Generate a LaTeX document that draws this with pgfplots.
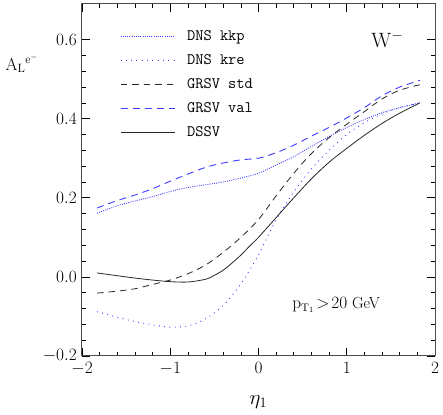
\documentclass[border=0pt]{standalone}
\usepackage{pgfplots}
\pgfplotsset{compat=1.18}
\definecolor{myblue}{RGB}{60,60,255}
\definecolor{mydark}{RGB}{40,40,40}
\begin{document}
\begin{tikzpicture}
\begin{axis}[
  name=ax,
  scale only axis, width=353pt, height=352pt,
  xmin=-2, xmax=2, ymin=-0.2, ymax=0.69,
  xtick={-2,-1,0,1,2}, ytick={-0.2,0,0.2,0.4,0.6},
  minor x tick num=4, minor y tick num=4,
  tick align=inside, major tick length=8pt, minor tick length=4pt,
  axis line style={gray!60!black, line width=1pt},
  tick style={black, line width=0.7pt},
  ticklabel style={font=\fontsize{16}{19}\selectfont, inner sep=1pt},
  xticklabel style={yshift=-5pt},
  yticklabel style={xshift=-4pt, /pgf/number format/.cd, fixed, fixed zerofill, precision=1},
  clip=false,
  legend cell align=left,
  legend image code/.code={\draw[#1] (0pt,0pt) -- (54pt,0pt);},
  legend style={draw=none, fill=none, at={(0.099,0.935)}, anchor=north west,
    font=\fontsize{16}{19}\selectfont\ttfamily,
    nodes={inner sep=0pt, text height=11pt, text depth=3.5pt},
    row sep=9.5pt, column sep=12pt},
]
\addplot[myblue, line width=0.9pt, dash pattern=on 0.9pt off 1.3pt, smooth] coordinates {
(-1.83,0.161) (-1.6,0.180) (-1.4,0.192) (-1.2,0.203) (-1.0,0.216) (-0.8,0.226)
(-0.6,0.233) (-0.4,0.240) (-0.2,0.250) (0,0.262) (0.2,0.283) (0.4,0.304)
(0.6,0.330) (0.8,0.355) (1.0,0.378) (1.2,0.398) (1.4,0.415) (1.6,0.428) (1.83,0.440)};
\addlegendentry{DNS kkp}
\addplot[myblue, line width=0.9pt, dash pattern=on 0.9pt off 4.4pt, smooth] coordinates {
(-1.83,-0.088) (-1.6,-0.102) (-1.4,-0.113) (-1.2,-0.121) (-1.0,-0.127) (-0.8,-0.124)
(-0.6,-0.106) (-0.4,-0.072) (-0.2,-0.018) (0,0.056) (0.2,0.145) (0.4,0.215)
(0.6,0.273) (0.8,0.320) (1.0,0.360) (1.2,0.390) (1.4,0.412) (1.6,0.428) (1.83,0.440)};
\addlegendentry{DNS kre}
\addplot[mydark, line width=0.8pt, dash pattern=on 6.5pt off 5pt, smooth] coordinates {
(-1.83,-0.041) (-1.6,-0.036) (-1.4,-0.030) (-1.2,-0.019) (-1.0,-0.008) (-0.8,0.008)
(-0.6,0.030) (-0.4,0.062) (-0.2,0.100) (0,0.145) (0.2,0.205) (0.4,0.262)
(0.6,0.312) (0.8,0.352) (1.0,0.386) (1.2,0.418) (1.4,0.450) (1.6,0.472) (1.83,0.486)};
\addlegendentry{GRSV std}
\addplot[myblue, line width=0.9pt, dash pattern=on 7pt off 5pt, smooth] coordinates {
(-1.83,0.174) (-1.6,0.193) (-1.4,0.207) (-1.2,0.223) (-1.0,0.242) (-0.8,0.260)
(-0.6,0.277) (-0.4,0.288) (-0.2,0.296) (0,0.300) (0.2,0.314) (0.4,0.333)
(0.6,0.356) (0.8,0.378) (1.0,0.402) (1.2,0.428) (1.4,0.458) (1.6,0.480) (1.83,0.497)};
\addlegendentry{GRSV val}
\addplot[mydark, line width=0.8pt, smooth] coordinates {
(-1.83,0.010) (-1.6,0.003) (-1.4,-0.003) (-1.2,-0.008) (-1.0,-0.012) (-0.8,-0.013)
(-0.6,-0.006) (-0.5,0.004) (-0.4,0.017) (-0.3,0.035) (-0.2,0.055) (-0.1,0.078)
(0,0.100) (0.2,0.150) (0.4,0.200) (0.6,0.248) (0.8,0.290) (1.0,0.325)
(1.2,0.358) (1.4,0.388) (1.6,0.414) (1.83,0.440)};
\addlegendentry{DSSV}
\node[font=\fontsize{17}{20}\selectfont] at (rel axis cs:-0.17,0.83) {$\mathrm{A}_{\mathrm{L}}{}^{\mathrm{e}^{-}}$};
\node[font=\fontsize{22}{26}\selectfont] at (rel axis cs:0.865,0.9) {$\mathrm{W}^{-}$};
\node[font=\fontsize{16}{19}\selectfont] at (rel axis cs:0.72,0.145) {$\mathrm{p}_{\mathrm{T}_1}\!>\!20$ GeV};
\node[font=\fontsize{20}{24}\selectfont] at (rel axis cs:0.5,-0.13) {$\eta_1$};
\end{axis}
\pgfresetboundingbox
\path ([xshift=-82pt,yshift=-59pt]ax.south west) rectangle ([xshift=8pt,yshift=4pt]ax.north east);
\end{tikzpicture}
\end{document}
